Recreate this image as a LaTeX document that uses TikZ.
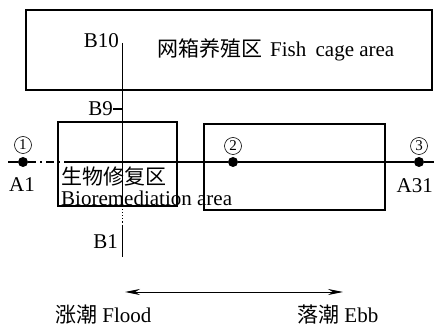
\documentclass[tikz,border=0pt]{standalone}
\usepackage{fontspec}
\setmainfont{Liberation Serif}
\newfontfamily\cjk{Noto Sans CJK SC}
\usetikzlibrary{arrows.meta}
\begin{document}
\begin{tikzpicture}[x=1pt,y=-1pt,
  lbl/.style={inner sep=0pt, font=\fontsize{21}{23}\selectfont},
  area/.style={draw, line width=1.1pt, inner sep=0pt},
  ln/.style={line width=1.1pt},
  dot/.style={circle, fill, inner sep=0pt, minimum size=10pt},
  circnum/.style={circle, draw, line width=0.6pt, inner sep=0pt, minimum size=17pt, font=\fontsize{15}{15}\selectfont}]
\useasboundingbox (0,0) rectangle (436,328);
% areas
\node[area, minimum width=406pt, minimum height=80pt] (cage) at (229,50) {};
\node[area, minimum width=119pt, minimum height=84pt] (bio) at (117.5,164) {};
\node[area, minimum width=181pt, minimum height=86pt] (right) at (294.5,167) {};
% texts
\node[lbl, anchor=west] (cagetxt) at (157,50) {{\cjk 网箱养殖区}\hspace{8pt}Fish\hspace{4pt} cage area};
\node[lbl, anchor=west] (biocn) at (61,177) {\cjk 生物修复区};
\node[lbl, anchor=west] (bioen) at (61,198) {Bioremediation area};
% vertical line
\coordinate (vtop) at (122.7,43);
\coordinate (vs1) at (122.7,206);
\coordinate (vs2) at (122.7,226);
\coordinate (vbot) at (122.7,257);
\draw[ln] (vtop) -- (vs1);
\draw[ln, dotted] (vs1) -- (vs2);
\draw[ln] (vs2) -- (vbot);
\node[lbl, anchor=east] (b10) at (119,41) {B10};
\coordinate (b9t) at (113,109);
\draw[ln] (b9t) -- (122.7,109);
\node[lbl, anchor=east] (b9) at (b9t) {B9};
\node[lbl, anchor=east] (b1) at (118,242) {B1};
% horizontal line
\coordinate (hl) at (8,162);
\coordinate (hd) at (72,162);
\coordinate (hr) at (434,162);
\node[dot] (p1) at (23,162) {};
\node[dot] (p2) at (233,162) {};
\node[dot] (p3) at (419,162) {};
\draw[ln] (hl) -- (p1);
\draw[ln, dash pattern=on 8pt off 4pt on 2pt off 4pt] (p1) -- (hd);
\draw[ln] (hd) -- (p2) -- (p3) -- (hr);
\node[circnum] (n1) at (23,145) {1};
\node[circnum] (n2) at (233,146) {2};
\node[circnum] (n3) at (419,146) {3};
\node[lbl] (a1) at (22,185) {A1};
\node[lbl, anchor=east] (a31) at (433,186) {A31};
% tide arrow
\coordinate (al) at (125,292);
\coordinate (ar) at (343,292);
\draw[line width=0.9pt, {Stealth[length=15pt,width=6pt]}-{Stealth[length=15pt,width=6pt]}] (al) -- (ar);
\node[lbl, anchor=west] (flood) at (55,315) {{\cjk 涨潮} Flood};
\node[lbl, anchor=west] (ebb) at (297,315) {{\cjk 落潮} Ebb};
\end{tikzpicture}
\end{document}
